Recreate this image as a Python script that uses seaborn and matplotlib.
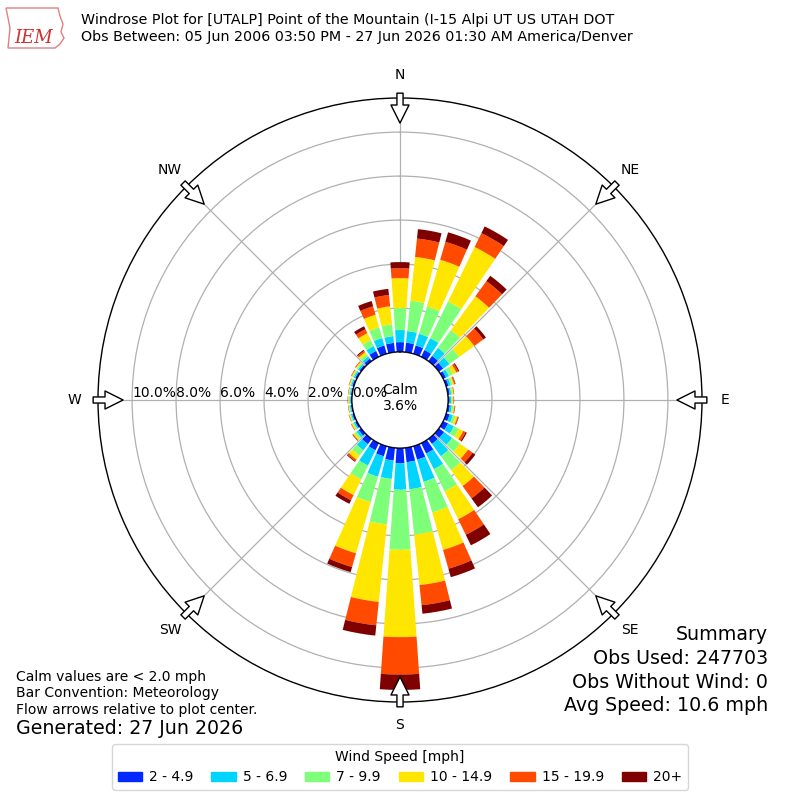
import numpy as np
import matplotlib
matplotlib.use("Agg")
import matplotlib.pyplot as plt
import matplotlib.patches as mpatches
import seaborn as sns

# wind direction bins (deg, meteorological "from") and percent of obs per speed bin
directions = list(range(0, 360, 10))
speed_labels = ["2 - 4.9", "5 - 6.9", "7 - 9.9", "10 - 14.9", "15 - 19.9", "20+"]

spd_2_5 = [0.45, 0.44, 0.40, 0.35, 0.30, 0.25, 0.15, 0.12, 0.09, 0.08, 0.10, 0.17,
           0.25, 0.30, 0.29, 0.53, 0.64, 0.66, 0.70, 0.59, 0.48, 0.36, 0.30, 0.15,
           0.09, 0.08, 0.06, 0.06, 0.06, 0.08, 0.09, 0.10, 0.15, 0.30, 0.40, 0.43]
spd_5_7 = [0.55, 0.53, 0.55, 0.60, 0.45, 0.35, 0.15, 0.10, 0.07, 0.07, 0.09, 0.15,
           0.30, 0.45, 0.69, 0.79, 1.05, 1.24, 1.20, 0.84, 0.97, 0.78, 0.35, 0.12,
           0.07, 0.06, 0.05, 0.05, 0.05, 0.06, 0.07, 0.08, 0.12, 0.25, 0.35, 0.31]
spd_7_10 = [1.00, 1.39, 1.30, 1.85, 1.00, 0.55, 0.20, 0.09, 0.06, 0.06, 0.07, 0.12,
            0.25, 0.45, 0.79, 1.13, 1.45, 2.07, 2.73, 2.08, 1.20, 0.70, 0.30, 0.10,
            0.06, 0.05, 0.04, 0.04, 0.04, 0.05, 0.06, 0.07, 0.12, 0.30, 0.50, 0.54]
spd_10_15 = [1.36, 2.00, 2.20, 2.76, 1.90, 0.85, 0.17, 0.07, 0.05, 0.04, 0.05, 0.10,
             0.22, 0.45, 0.89, 1.40, 1.77, 2.31, 3.97, 3.54, 2.42, 0.79, 0.22, 0.08,
             0.05, 0.04, 0.03, 0.03, 0.03, 0.04, 0.05, 0.06, 0.12, 0.35, 0.60, 0.82]
spd_15_20 = [0.45, 0.84, 0.85, 0.70, 0.85, 0.50, 0.10, 0.05, 0.02, 0.02, 0.03, 0.04,
             0.12, 0.25, 0.69, 0.79, 0.89, 0.92, 1.70, 1.07, 0.65, 0.26, 0.09, 0.03,
             0.02, 0.01, 0.01, 0.01, 0.01, 0.01, 0.02, 0.03, 0.08, 0.20, 0.40, 0.52]
spd_20p = [0.28, 0.43, 0.45, 0.34, 0.30, 0.15, 0.05, 0.02, 0.01, 0.01, 0.01, 0.02,
           0.06, 0.15, 0.50, 0.53, 0.40, 0.39, 0.70, 0.47, 0.24, 0.18, 0.04, 0.02,
           0.01, 0.01, 0.01, 0.01, 0.01, 0.01, 0.01, 0.01, 0.05, 0.15, 0.25, 0.28]
speed_bins = [spd_2_5, spd_5_7, spd_7_10, spd_10_15, spd_15_20, spd_20p]

ring_values = [0, 2, 4, 6, 8, 10]
compass = ["N", "NE", "E", "SE", "S", "SW", "W", "NW"]
calm_pct = 3.6

sns.set_style("white")
plt.rcParams["font.family"] = ["DejaVu Sans"]
plt.rcParams["text.color"] = "black"
colors = sns.color_palette(["#0028ff", "#00d4ff", "#7dff7a", "#ffe600", "#ff4a00", "#800000"])

fig = plt.figure(figsize=(8, 8), dpi=100)
ax = fig.add_axes([0.1225, 0.1225, 0.755, 0.755], projection="polar")
ax.set_theta_zero_location("N")
ax.set_theta_direction(-1)

theta = np.radians(directions)
bottom = np.zeros(len(directions))
for vals, c in zip(speed_bins, colors):
    ax.bar(theta, vals, width=np.radians(8), bottom=bottom, color=c, linewidth=0, zorder=3)
    bottom += np.array(vals)

ax.set_ylim(0, 11.55)
ax.set_rorigin(-2.18)
ax.set_xticks(np.radians(range(0, 360, 45)))
ax.set_xticklabels([])
ax.set_yticks(ring_values[1:])
ax.set_yticklabels([])
ax.grid(True, color="#b0b0b0", lw=0.9)
ax.spines["polar"].set_color("black")
ax.spines["polar"].set_linewidth(1.0)

# calm circle
tt = np.linspace(0, 2 * np.pi, 400)
ax.plot(tt, np.zeros_like(tt), color="black", lw=1.2, zorder=4)

# radial labels along W axis
for v in ring_values:
    ax.text(np.radians(270), v, f"{v:.1f}%", ha="left", va="bottom", fontsize=10, zorder=5)

# compass labels and inward flow arrows
for i, lab in enumerate(compass):
    ang = np.radians(i * 45)
    ax.text(ang, 12.6, lab, ha="center", va="center", fontsize=10, clip_on=False)
    ax.annotate("", xy=(ang, 10.41), xytext=(ang, 11.77),
                arrowprops=dict(arrowstyle="simple,head_length=0.65,head_width=0.65,tail_width=0.22",
                                fc="white", ec="black", lw=1, shrinkA=0, shrinkB=0,
                                mutation_scale=20),
                annotation_clip=False, zorder=6)

fig.text(0.5, 0.5025, f"Calm\n{calm_pct}%", ha="center", va="center", fontsize=10)

# header logo (rough) and title
logo_x = [6, 58, 60, 63, 61, 64, 60, 55, 8, 10, 6]
logo_y = [8, 8, 16, 24, 32, 38, 44, 48, 48, 28, 8]
fig.add_artist(plt.Polygon(np.column_stack([np.array(logo_x) / 800, 1 - np.array(logo_y) / 800]),
                           closed=True, fill=False, ec="#e08080", lw=1, transform=fig.transFigure))
fig.text(34 / 800, 1 - 38 / 800, "IEM", fontsize=13, family="DejaVu Serif", style="italic",
         color="#d03030", ha="center", va="center")
fig.text(81 / 800, 1 - 20 / 800,
         "Windrose Plot for [UTALP] Point of the Mountain (I-15 Alpi UT US UTAH DOT",
         fontsize=10.3, va="center")
fig.text(81 / 800, 1 - 37 / 800,
         "Obs Between: 05 Jun 2006 03:50 PM - 27 Jun 2026 01:30 AM America/Denver",
         fontsize=10.3, va="center")

# footer notes
fig.text(16 / 800, 1 - 677 / 800, "Calm values are < 2.0 mph", fontsize=10, va="center")
fig.text(16 / 800, 1 - 693 / 800, "Bar Convention: Meteorology", fontsize=10, va="center")
fig.text(16 / 800, 1 - 710 / 800, "Flow arrows relative to plot center.", fontsize=10, va="center")
fig.text(16 / 800, 1 - 729 / 800, "Generated: 27 Jun 2026", fontsize=13.7, va="center")

summary = ["Summary", "Obs Used: 247703", "Obs Without Wind: 0", "Avg Speed: 10.6 mph"]
for k, s in enumerate(summary):
    fig.text(768 / 800, 1 - (635 + 23.5 * k) / 800, s, fontsize=13.7, ha="right", va="center")

handles = [mpatches.Patch(color=c) for c in colors]
fig.legend(handles, speed_labels, title="Wind Speed [mph]", loc="lower center",
           bbox_to_anchor=(0.5, 10 / 800), borderaxespad=0, ncol=6, fontsize=10,
           title_fontsize=10, handlelength=1.75, handleheight=0.7, handletextpad=0.5,
           columnspacing=1.3, frameon=True)

fig.savefig("out.png", dpi=100)
